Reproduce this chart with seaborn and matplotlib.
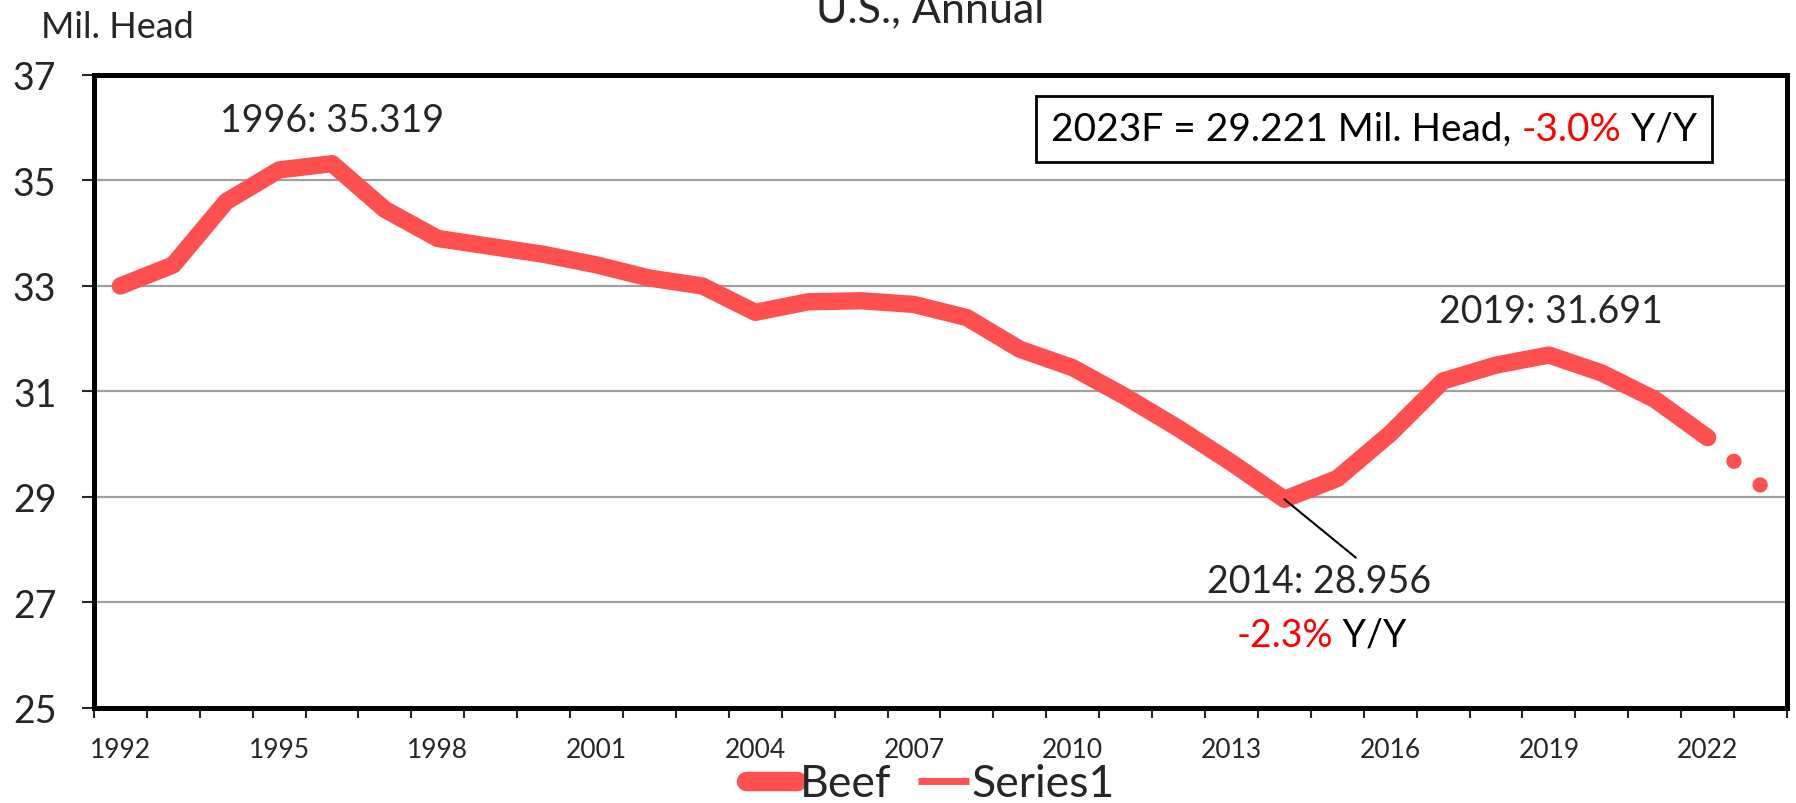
import matplotlib
matplotlib.use("Agg")
import matplotlib.pyplot as plt
from matplotlib.ticker import FixedLocator
from matplotlib.offsetbox import TextArea, HPacker, AnchoredOffsetbox
import seaborn as sns
import pandas as pd

# data
years = list(range(1992, 2023))
beef = [33.0, 33.4, 34.6, 35.2, 35.319, 34.45, 33.9, 33.75, 33.6, 33.4,
        33.15, 33.0, 32.5, 32.7, 32.72, 32.65, 32.4, 31.8, 31.45, 30.9,
        30.3, 29.65, 28.956, 29.35, 30.2, 31.2, 31.5, 31.691, 31.35, 30.85,
        30.125]
fc_years = [2022, 2023]
fc_vals = [30.125, 29.221]
xtick_years = list(range(1992, 2023, 3))
ytick_vals = [25, 27, 29, 31, 33, 35, 37]

red = "#FF5050"

sns.set_style("white")
plt.rcParams["font.family"] = ["Lato", "DejaVu Sans"]

fig = plt.figure(figsize=(17.96, 8.04), dpi=100)
ax = fig.add_axes([0.0523, 0.1182, 0.9427, 0.7873])

df = pd.DataFrame({"year": years, "val": beef})
sns.lineplot(data=df, x="year", y="val", ax=ax, color=red, lw=12.5,
             solid_capstyle="round", solid_joinstyle="round", label="Beef")
sns.lineplot(x=fc_years, y=fc_vals, ax=ax, color=red, lw=11,
             linestyle=(0, (0.01, 2.3)), dash_capstyle="round", label="Series1")

ax.set_xlim(1991.5, 2023.5)
ax.set_ylim(25, 37)
ax.set_yticks(ytick_vals)
ax.xaxis.set_major_locator(FixedLocator(xtick_years))
ax.xaxis.set_minor_locator(FixedLocator([y + 0.5 for y in range(1991, 2024)]))
ax.set_xlabel("")
ax.set_ylabel("")
ax.grid(axis="y", color="#A0A0A0", lw=1.6)
ax.set_axisbelow(True)
for s in ax.spines.values():
    s.set_linewidth(3.6)
    s.set_color("black")
ax.tick_params(axis="y", which="major", length=9, width=1.5, direction="out",
               left=True, labelsize=27, pad=18)
ax.tick_params(axis="x", which="major", length=0, labelsize=19, pad=21)
ax.tick_params(axis="x", which="minor", length=7, width=1.5, direction="out",
               bottom=True)

fig.text(0.023, 0.966, "Mil. Head", fontsize=26, ha="left", va="center")
fig.text(0.518, 0.972, "U.S., Annual", fontsize=31, ha="center", va="baseline")

# annotations
ax.text(1996.0, 36.14, "1996: 35.319", fontsize=27, ha="center", va="center")
ax.text(2019.04, 32.52, "2019: 31.691", fontsize=27, ha="center", va="center")
ax.text(2014.66, 27.41, "2014: 28.956", fontsize=27, ha="center", va="center")
ax.annotate("", xy=(2014.0, 28.956), xytext=(2015.35, 27.85),
            arrowprops=dict(arrowstyle="-", lw=1.5, color="black",
                            shrinkA=0, shrinkB=0))

yy = HPacker(children=[TextArea("-2.3%", textprops=dict(color="red", fontsize=27)),
                       TextArea(" Y/Y", textprops=dict(color="black", fontsize=27))],
             pad=0, sep=0)
ab = AnchoredOffsetbox(loc="center", child=yy, frameon=False, pad=0,
                       bbox_to_anchor=(2014.7, 26.39), bbox_transform=ax.transData)
ax.add_artist(ab)

box = HPacker(children=[TextArea("2023F = 29.221 Mil. Head, ", textprops=dict(color="black", fontsize=28)),
                        TextArea("-3.0%", textprops=dict(color="red", fontsize=28)),
                        TextArea(" Y/Y", textprops=dict(color="black", fontsize=28))],
              pad=0, sep=0)
ab2 = AnchoredOffsetbox(loc="center", child=box, frameon=True, pad=1.1,
                        prop=dict(size=10),
                        bbox_to_anchor=(0.756, 0.915), bbox_transform=ax.transAxes)
ab2.patch.set_edgecolor("black")
ab2.patch.set_linewidth(2)
ab2.patch.set_boxstyle("square", pad=0)
ax.add_artist(ab2)

leg = ax.legend(loc="center", bbox_to_anchor=(0.518, 0.024),
                bbox_transform=fig.transFigure, ncol=2, frameon=False,
                fontsize=32, handlelength=1.15, handletextpad=0.05,
                columnspacing=0.6, borderpad=0, borderaxespad=0)
hl = leg.get_lines()
hl[0].set_linewidth(14)
hl[0].set_solid_capstyle("round")
hl[1].set_linewidth(5)
hl[1].set_linestyle("-")
hl[1].set_solid_capstyle("butt")

fig.savefig("out.png", dpi=100)
